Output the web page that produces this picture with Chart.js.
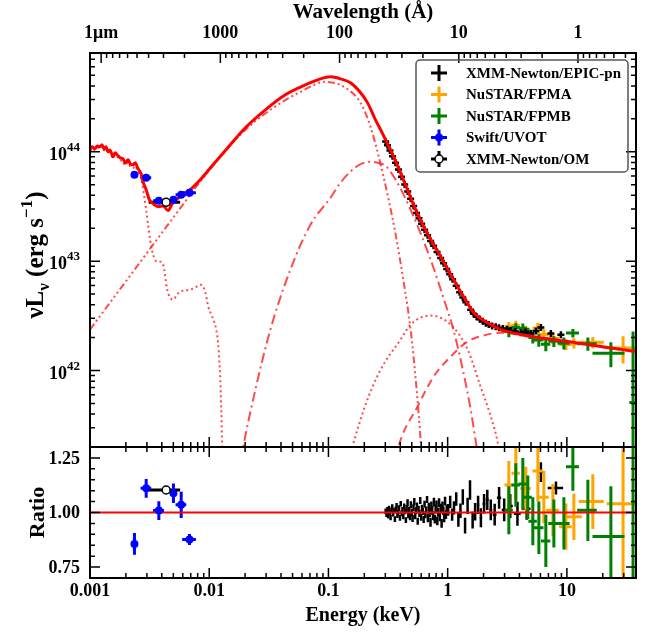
<!DOCTYPE html>
<html>
<head>
<meta charset="utf-8">
<title>SED fit</title>
<script src="https://cdn.jsdelivr.net/npm/chart.js@4.4.1/dist/chart.umd.min.js"></script>
<style>
  body { margin: 0; background: #fff; }
  #wrap { position: relative; width: 655px; height: 634px; }
  #wrap canvas { position: absolute; left: 0; top: 0; }
</style>
</head>
<body>
<div id="wrap">
  <canvas id="ratioChart" width="655" height="634"></canvas>
  <canvas id="sedChart" width="655" height="634"></canvas>
</div>
<script>
const HC = 12.398; // keV * Angstrom
const SERIF = '"Liberation Serif", "Times New Roman", serif';

// Axes
const energyRange = [0.001, 38];
const energyTicks = [0.001, 0.01, 0.1, 1, 10];
const energyTickLabels = ['0.001', '0.01', '0.1', '1', '10'];
const waveTicks = [10000, 1000, 100, 10, 1];
const waveTickLabels = ['1\u03bcm', '1000', '100', '10', '1'];
const lumRange = [2e41, 8e44];
const lumTicks = [1e42, 1e43, 1e44];
const lumTickExp = ['42', '43', '44'];
const ratioRange = [0.7, 1.3];
const ratioTicks = [0.75, 1.0, 1.25];
const ratioTickLabels = ['0.75', '1.00', '1.25'];

// Model: total
const totE = [0.001, 0.00104, 0.0011, 0.00115, 0.00121, 0.00126, 0.00131, 0.00136, 0.00142, 0.00147,
  0.00156, 0.00162, 0.00172, 0.00179, 0.00189, 0.00197, 0.00209, 0.00217, 0.0023, 0.00239,
  0.00253, 0.00268, 0.00279, 0.00296, 0.00313, 0.00338, 0.00373, 0.00411, 0.00452, 0.00489,
  0.00571, 0.00692, 0.0084, 0.0102, 0.0136, 0.0201, 0.0296, 0.0435, 0.0641, 0.0857,
  0.104, 0.126, 0.153, 0.186, 0.213, 0.248, 0.274, 0.331, 0.39, 0.46,
  0.54, 0.63, 0.74, 0.873, 1.0, 1.21, 1.4, 1.65, 2.3, 2.79,
  5.28, 10.2, 19.3, 38.8];
const totL = [1.04e44, 1.11e44, 1.065e44, 1.13e44, 1.11e44, 1.16e44, 1.065e44, 1.11e44, 1.0e44, 1.04e44,
  9.0e43, 9.8e43, 9.2e43, 8.8e43, 8.64e43, 7.93e43, 8.45e43, 7.77e43, 7.6e43, 7.93e43,
  7.0e43, 6.3e43, 5.3e43, 4.5e43, 3.7e43, 3.35e43, 3.15e43, 3.2e43, 2.9e43, 3.35e43,
  3.9e43, 4.5e43, 5.55e43, 7.1e43, 1.02e44, 1.66e44, 2.42e44, 3.32e44, 4.09e44, 4.64e44,
  4.84e44, 4.64e44, 4.27e44, 3.46e44, 2.8e44, 1.96e44, 1.59e44, 1.04e44, 6.99e43, 4.5e43,
  2.95e43, 2.07e43, 1.5e43, 1.1e43, 8.5e42, 5.85e42, 4.5e42, 3.39e42, 2.63e42, 2.37e42,
  2.04e42, 1.84e42, 1.66e42, 1.49e42];

// Model: host galaxy (dotted)
const hostE = [0.001, 0.00104, 0.0011, 0.00115, 0.00121, 0.00126, 0.00131, 0.00136, 0.00142, 0.00147,
  0.00156, 0.00162, 0.00172, 0.00179, 0.00189, 0.00197, 0.00209, 0.00217, 0.0023, 0.00239,
  0.00253, 0.00268, 0.00279, 0.00296, 0.00307, 0.00319, 0.00338, 0.00366, 0.00387, 0.00411,
  0.00444, 0.0047, 0.00498, 0.00538, 0.00571, 0.00628, 0.00692, 0.00763, 0.0084, 0.0089,
  0.00926, 0.00981, 0.0104, 0.011, 0.01145, 0.0119, 0.01213, 0.01237, 0.01261, 0.01286, 0.0131];
const hostL = [1.01e44, 1.07e44, 1.03e44, 1.09e44, 1.07e44, 1.12e44, 1.03e44, 1.07e44, 9.7e43, 1.0e44,
  8.7e43, 9.4e43, 8.8e43, 8.4e43, 8.2e43, 7.5e43, 8.0e43, 7.3e43, 7.1e43, 7.4e43,
  6.5e43, 5.79e43, 4.5e43, 2.95e43, 2.15e43, 1.57e43, 1.15e43, 9.9e42, 9.9e42, 9.3e42,
  5.5e42, 4.64e42, 4.45e42, 4.94e42, 5.27e42, 5.38e42, 5.49e42, 5.73e42, 6.1e42, 5.85e42,
  5.27e42, 3.84e42, 3.25e42, 2.8e42, 2.37e42, 1.73e42, 1.26e42, 8.8e41, 4.4e41, 2.0e41, 1.2e41];

// Model: accretion disc
const diskE = [0.001, 0.00217, 0.0047, 0.00962, 0.0182, 0.0326, 0.0582, 0.0944, 0.139, 0.186,
  0.225, 0.29, 0.366, 0.427, 0.489, 0.549, 0.593, 0.62];
const diskL = [2.37e42, 7.37e42, 2.29e43, 6.43e43, 1.43e44, 2.42e44, 3.53e44, 4.36e44, 3.84e44, 2.8e44,
  1.7e44, 5.9e43, 1.75e43, 6.5e42, 2.37e42, 6.7e41, 2.34e41, 1.2e41];

// Model: warm corona
const warmE = [0.0185, 0.0193, 0.0244, 0.0326, 0.048, 0.0706, 0.104, 0.126, 0.153, 0.186,
  0.225, 0.265, 0.301, 0.366, 0.489, 0.72, 0.962, 1.1, 1.34, 1.56, 1.75, 1.85];
const warmL = [1.5e41, 2.0e41, 6.7e41, 2.37e42, 8.4e42, 2.15e43, 3.8e43, 5.2e43, 6.6e43, 7.7e43,
  8.1e43, 7.9e43, 7.45e43, 5.55e43, 2.95e43, 1.03e43, 4.0e42, 2.52e42, 1.02e42, 4.4e41, 2.0e41, 1.4e41];

// Model: soft bump
const bumpE = [0.15, 0.159, 0.205, 0.274, 0.403, 0.489, 0.72, 1.06, 1.47, 1.89, 2.3, 2.63, 2.75];
const bumpL = [1.6e41, 2.02e41, 4.9e41, 1.02e42, 1.92e42, 2.63e42, 3.18e42, 2.63e42, 1.56e42, 7.1e41, 3.8e41, 2.2e41, 1.6e41];

// Model: hot corona
const hotE = [0.37, 0.387, 0.56, 0.763, 1.06, 1.47, 2.0, 2.79, 5.28, 10.2, 19.3, 38.8];
const hotL = [1.6e41, 2.02e41, 4.7e41, 8.8e41, 1.34e42, 1.84e42, 2.09e42, 2.22e42, 2.0e42, 1.82e42, 1.64e42, 1.47e42];

// XMM-Newton/EPIC-pn, unfolded
const epicTopE = [0.302, 0.313, 0.328, 0.345, 0.365, 0.387, 0.41, 0.436, 0.462, 0.489,
  0.518, 0.548, 0.575, 0.605, 0.64, 0.679, 0.72, 0.762, 0.815, 0.873,
  0.925, 0.982, 1.04, 1.10, 1.18, 1.26, 1.34, 1.42, 1.56, 1.65,
  1.75, 1.86, 1.97, 2.09, 2.21, 2.36, 2.53, 2.7, 2.90, 3.15,
  3.38, 3.7, 4.10, 4.5, 4.98, 5.5, 6.05, 7.34, 8.91];
const epicTopL = [1.24e44, 1.145e44, 1.03e44, 9.1e43, 7.95e43, 6.9e43, 5.9e43, 5.03e43, 4.34e43, 3.72e43,
  3.2e43, 2.76e43, 2.47e43, 2.2e43, 1.94e43, 1.73e43, 1.53e43, 1.38e43, 1.21e43, 1.07e43,
  9.55e42, 8.5e42, 7.6e42, 6.85e42, 5.95e42, 5.2e42, 4.65e42, 4.2e42, 3.6e42, 3.3e42,
  3.1e42, 2.95e42, 2.82e42, 2.7e42, 2.63e42, 2.56e42, 2.52e42, 2.46e42, 2.42e42, 2.38e42,
  2.32e42, 2.27e42, 2.22e42, 2.25e42, 2.18e42, 2.3e42, 2.47e42, 2.18e42, 2.13e42];

// XMM-Newton/EPIC-pn, ratio
const epicE = [0.302, 0.307, 0.312, 0.317, 0.322, 0.327, 0.332, 0.338, 0.343, 0.349,
  0.355, 0.361, 0.367, 0.373, 0.379, 0.385, 0.391, 0.398, 0.404, 0.411,
  0.418, 0.425, 0.432, 0.439, 0.446, 0.453, 0.461, 0.468, 0.476, 0.484,
  0.492, 0.500, 0.508, 0.517, 0.525, 0.534, 0.543, 0.552, 0.561, 0.570,
  0.580, 0.589, 0.599, 0.609, 0.619, 0.629, 0.640, 0.650, 0.661, 0.672,
  0.683, 0.695, 0.706, 0.718, 0.730, 0.742, 0.754, 0.767, 0.780, 0.793,
  0.806, 0.819, 0.833, 0.847, 0.861, 0.875, 0.890, 0.905, 0.920, 0.935,
  0.951, 0.967, 0.983,
  1.01, 1.05, 1.09, 1.13, 1.18, 1.23, 1.28, 1.34, 1.40, 1.47,
  1.54, 1.62, 1.70, 1.80, 1.90, 2.02, 2.15, 2.30, 2.48, 2.70,
  2.98, 3.35, 3.85, 4.6, 6.05, 8.1];
const epicEerr = [0.0025, 0.0025, 0.0025, 0.0025, 0.0025, 0.0025, 0.0025, 0.0025, 0.0025, 0.0025,
  0.0025, 0.0025, 0.0025, 0.0025, 0.0025, 0.0025, 0.0025, 0.0025, 0.0032, 0.0032,
  0.0032, 0.0032, 0.0032, 0.0032, 0.0032, 0.0032, 0.0032, 0.0032, 0.0032, 0.0032,
  0.0032, 0.0032, 0.0032, 0.0032, 0.0032, 0.0032, 0.0042, 0.0042, 0.0042, 0.0042,
  0.0042, 0.0042, 0.0042, 0.0042, 0.0042, 0.0042, 0.0042, 0.0042, 0.0042, 0.0042,
  0.0042, 0.0042, 0.0042, 0.0042, 0.0055, 0.0055, 0.0055, 0.0055, 0.0055, 0.0055,
  0.0055, 0.0055, 0.0055, 0.0055, 0.0055, 0.0055, 0.0055, 0.0055, 0.0055, 0.0055,
  0.0055, 0.0055, 0.0055,
  0.02, 0.02, 0.02, 0.025, 0.025, 0.025, 0.03, 0.03, 0.03, 0.035,
  0.035, 0.04, 0.045, 0.05, 0.05, 0.06, 0.065, 0.07, 0.09, 0.11,
  0.14, 0.17, 0.25, 0.35, 0.3, 1.2];
const epicRatio = [1.005, 0.992, 1.012, 0.985, 1.018, 1.000, 0.978, 1.010, 1.025, 0.995,
  1.008, 0.970, 1.015, 1.030, 0.988, 1.002, 1.020, 0.975, 1.040, 0.996,
  1.012, 0.982, 1.028, 1.005, 0.965, 1.018, 1.045, 0.990, 1.010, 0.980,
  1.035, 1.000, 0.972, 1.022, 1.050, 0.985, 1.008, 1.030, 0.960, 1.015,
  0.995, 1.055, 0.978, 1.020, 1.005, 0.968, 1.038, 0.990, 1.012, 1.060,
  0.975, 1.025, 0.998, 0.955, 1.030, 1.010, 0.985, 1.048, 0.970, 1.015,
  1.035, 0.962, 1.002, 1.045, 0.980, 1.020, 0.950, 1.030, 1.008, 0.975,
  1.052, 0.990, 1.015,
  1.012, 1.049, 0.990, 1.021, 1.062, 0.967, 1.008, 1.071, 0.940, 1.030,
  1.103, 0.965, 1.003, 1.035, 0.976, 1.040, 1.058, 1.012, 0.990, 1.067,
  1.012, 1.030, 0.994, 1.017, 1.185, 1.112];
const epicRatioErr = [0.013, 0.013, 0.013, 0.013, 0.013, 0.013, 0.013, 0.013, 0.013, 0.013,
  0.013, 0.013, 0.013, 0.013, 0.013, 0.013, 0.013, 0.013, 0.013, 0.013,
  0.013, 0.013, 0.013, 0.013, 0.013, 0.016, 0.016, 0.016, 0.016, 0.016,
  0.016, 0.016, 0.016, 0.016, 0.016, 0.016, 0.016, 0.016, 0.016, 0.016,
  0.016, 0.016, 0.016, 0.016, 0.016, 0.016, 0.016, 0.016, 0.016, 0.016,
  0.02, 0.02, 0.02, 0.02, 0.02, 0.02, 0.02, 0.02, 0.02, 0.02,
  0.02, 0.02, 0.02, 0.02, 0.02, 0.02, 0.02, 0.02, 0.02, 0.02,
  0.02, 0.02, 0.02,
  0.027, 0.028, 0.028, 0.03, 0.031, 0.032, 0.033, 0.035, 0.036, 0.037,
  0.045, 0.038, 0.04, 0.042, 0.043, 0.045, 0.046, 0.048, 0.05, 0.05,
  0.052, 0.055, 0.055, 0.05, 0.045, 0.03];

// NuSTAR/FPMA
const fpmaE = [3.26, 3.73, 4.52, 5.71, 6.41, 7.63, 9.81, 11.45, 16.5, 29.6];
const fpmaEerr = [0.26, 0.30, 0.45, 0.57, 0.64, 0.94, 1.2, 1.9, 3.9, 8.0];
const fpmaL = [2.53e42, 2.60e42, 2.35e42, 2.44e42, 2.14e42, 1.97e42, 1.73e42, 1.78e42, 1.81e42, 1.61e42];
const fpmaLerr = [2.5e41, 2.6e41, 2.1e41, 2.9e41, 2.4e41, 2.3e41, 2.0e41, 1.9e41, 2.2e41, 4.5e41];
const fpmaRatio = [1.126, 1.18, 1.11, 1.19, 1.07, 1.01, 0.935, 0.98, 1.05, 1.04];
const fpmaRatioErr = [0.11, 0.12, 0.10, 0.14, 0.12, 0.12, 0.106, 0.106, 0.125, 0.4];

// NuSTAR/FPMB
const fpmbE = [3.26, 3.73, 4.27, 4.70, 5.18, 5.82, 6.66, 7.78, 9.44, 11.23, 15.0, 23.4, 35.9];
const fpmbEerr = [0.26, 0.30, 0.34, 0.38, 0.42, 0.55, 0.6, 0.8, 1.1, 1.4, 2.8, 7.0, 2.5];
const fpmbL = [2.27e42, 2.48e42, 2.43e42, 2.25e42, 2.00e42, 1.90e42, 1.74e42, 1.85e42, 1.78e42, 2.20e42, 1.76e42, 1.44e42, 5.1e41];
const fpmbLerr = [2.5e41, 2.2e41, 2.6e41, 2.1e41, 2.3e41, 2.5e41, 2.4e41, 2.1e41, 2.2e41, 2.0e41, 2.4e41, 3.7e41, 1.76e42];
const fpmbRatio = [1.01, 1.126, 1.13, 1.07, 0.96, 0.93, 0.87, 0.95, 0.95, 1.21, 1.01, 0.89, 0.34];
const fpmbRatioErr = [0.11, 0.10, 0.12, 0.10, 0.11, 0.12, 0.12, 0.11, 0.12, 0.11, 0.14, 0.23, 1.0];

// Swift/UVOT
const swiftE = [0.00236, 0.00296, 0.00378, 0.00501, 0.00582, 0.00683];
const swiftEerr = [0.0001, 0.0003, 0.0004, 0.0002, 0.0006, 0.0009];
const swiftL = [6.17e43, 5.80e43, 3.57e43, 3.65e43, 4.05e43, 4.22e43];
const swiftLerr = [3.6e42, 2.2e42, 1.5e42, 1.5e42, 2.3e42, 1.2e42];
const swiftRatio = [0.856, 1.111, 1.009, 1.088, 1.035, 0.876];
const swiftRatioErr = [0.05, 0.043, 0.043, 0.045, 0.06, 0.025];

// XMM-Newton/OM
const omE = [0.00435];
const omElo = [0.0031];
const omEhi = [0.0057];
const omL = [3.45e43];
const omRatio = [1.103];

const legendLabels = ['XMM-Newton/EPIC-pn', 'NuSTAR/FPMA', 'NuSTAR/FPMB', 'Swift/UVOT', 'XMM-Newton/OM'];
const legendColors = ['#000000', '#ffa500', '#008000', '#0000ff', '#000000'];
const legendMarks = ['', '', '', 'filled', 'open'];

// ---------- helpers ----------
function pts(xs, ys) { return xs.map((x, i) => ({ x, y: ys[i] })); }
function errPts(xs, xe, ys, ye) {
  return xs.map((x, i) => ({ x, y: ys[i], xMin: x - xe[i], xMax: x + xe[i], yMin: ys[i] - ye[i], yMax: ys[i] + ye[i] }));
}
function model(data, color, width, dash) {
  return { data, showLine: true, pointRadius: 0, borderColor: color, borderWidth: width,
    borderDash: dash, cubicInterpolationMode: 'monotone', fill: false };
}
function logSteps(min, max) {
  const out = [];
  for (let d = Math.floor(Math.log10(min)) - 1; d <= Math.ceil(Math.log10(max)); d++) {
    for (let k = 1; k <= 9; k++) {
      const v = k * Math.pow(10, d);
      if (v >= min * 0.9999 && v <= max * 1.0001) out.push([v, k === 1]);
    }
  }
  return out;
}

const errorBars = {
  id: 'errorBars',
  beforeDatasetsDraw(chart) {
    const { ctx, chartArea: a } = chart;
    const xs = chart.scales.x, ys = chart.scales.y;
    ctx.save();
    ctx.beginPath();
    ctx.rect(a.left, a.top, a.right - a.left, a.bottom - a.top);
    ctx.clip();
    chart.data.datasets.forEach(ds => {
      if (!ds.errorBars) return;
      ctx.strokeStyle = ds.errorBars.color;
      ctx.lineWidth = ds.errorBars.width;
      ds.data.forEach(p => {
        const px = xs.getPixelForValue(p.x), py = ys.getPixelForValue(p.y);
        let lo = p.yMin;
        if (ys.type === 'logarithmic' && !(lo > 0)) lo = ys.min / 10;
        ctx.beginPath();
        ctx.moveTo(xs.getPixelForValue(p.xMin), py);
        ctx.lineTo(xs.getPixelForValue(p.xMax), py);
        ctx.moveTo(px, ys.getPixelForValue(lo));
        ctx.lineTo(px, ys.getPixelForValue(p.yMax));
        ctx.stroke();
      });
    });
    ctx.restore();
  }
};

function tickV(ctx, x, y, len) { ctx.moveTo(x, y); ctx.lineTo(x, y + len); }
function tickH(ctx, x, y, len) { ctx.moveTo(x, y); ctx.lineTo(x + len, y); }

function crossMark(ctx, cx, cy, color, mark) {
  ctx.strokeStyle = color; ctx.lineWidth = 3;
  ctx.beginPath();
  ctx.moveTo(cx - 8, cy); ctx.lineTo(cx + 8, cy);
  ctx.moveTo(cx, cy - 8); ctx.lineTo(cx, cy + 8);
  ctx.stroke();
  if (mark === 'filled') {
    ctx.fillStyle = color;
    ctx.beginPath(); ctx.arc(cx, cy, 4, 0, Math.PI * 2); ctx.fill();
  } else if (mark === 'open') {
    ctx.fillStyle = '#fff'; ctx.strokeStyle = '#000'; ctx.lineWidth = 1.5;
    ctx.beginPath(); ctx.arc(cx, cy, 4, 0, Math.PI * 2); ctx.fill(); ctx.stroke();
  }
}

// text with sub/superscripts; parts = [text, size, baseline shift]
function drawRich(ctx, parts, cx, cy, rotate, base) {
  ctx.save();
  ctx.translate(cx, cy);
  if (rotate) ctx.rotate(-Math.PI / 2);
  let total = 0;
  parts.forEach(p => { ctx.font = 'bold ' + p[1] + 'px ' + SERIF; total += ctx.measureText(p[0]).width; });
  let x = -total / 2;
  ctx.textAlign = 'left'; ctx.textBaseline = 'alphabetic';
  parts.forEach(p => {
    ctx.font = 'bold ' + p[1] + 'px ' + SERIF;
    ctx.fillText(p[0], x, base + p[2]);
    x += ctx.measureText(p[0]).width;
  });
  ctx.restore();
}

const sedAxes = {
  id: 'sedAxes',
  afterDraw(chart) {
    const { ctx, chartArea: a } = chart;
    const x = chart.scales.x, y = chart.scales.y;
    ctx.save();
    ctx.strokeStyle = '#000'; ctx.fillStyle = '#000'; ctx.lineWidth = 1.5;
    ctx.beginPath();
    logSteps(energyRange[0], energyRange[1]).forEach(([v, major]) => {
      tickV(ctx, x.getPixelForValue(v), a.bottom, major ? -10 : -5);
    });
    logSteps(HC / energyRange[1], HC / energyRange[0]).forEach(([lam, major]) => {
      tickV(ctx, x.getPixelForValue(HC / lam), a.top, major ? 10 : 5);
    });
    logSteps(lumRange[0], lumRange[1]).forEach(([v, major]) => {
      const py = y.getPixelForValue(v);
      tickH(ctx, a.left, py, major ? 10 : 5);
      tickH(ctx, a.right, py, major ? -10 : -5);
    });
    ctx.stroke();
    ctx.lineWidth = 2;
    ctx.strokeRect(a.left, a.top, a.right - a.left, a.bottom - a.top);

    // y tick labels 10^n
    lumTicks.forEach((v, i) => {
      const py = y.getPixelForValue(v);
      ctx.textAlign = 'right'; ctx.textBaseline = 'alphabetic';
      ctx.font = 'bold 13px ' + SERIF;
      const ew = ctx.measureText(lumTickExp[i]).width;
      ctx.fillText(lumTickExp[i], a.left - 10, py - 1);
      ctx.font = 'bold 18px ' + SERIF;
      ctx.fillText('10', a.left - 10 - ew, py + 8);
    });
    // wavelength labels
    ctx.textAlign = 'center'; ctx.textBaseline = 'middle';
    ctx.font = 'bold 18px ' + SERIF;
    waveTicks.forEach((lam, i) => ctx.fillText(waveTickLabels[i], x.getPixelForValue(HC / lam), a.top - 20));
    ctx.font = 'bold 21px ' + SERIF;
    ctx.fillText('Wavelength (\u00c5)', (a.left + a.right) / 2, a.top - 40);

    drawRich(ctx, [['\u03bdL', 25, 0], ['\u03bd', 17, 6], [' (erg s', 25, 0], ['\u22121', 17, -11], [')', 25, 0]],
      34, (a.top + a.bottom) / 2 + 5, true, 9);

    // legend
    const bx = a.right - 220, by = a.top + 7, bw = 212, bh = 112;
    ctx.strokeStyle = '#555'; ctx.lineWidth = 1.5;
    ctx.beginPath(); ctx.roundRect(bx, by, bw, bh, 4); ctx.stroke();
    legendLabels.forEach((lab, i) => {
      const cy = by + 13 + i * 21.5;
      crossMark(ctx, bx + 23, cy, legendColors[i], legendMarks[i]);
      ctx.fillStyle = '#000';
      ctx.font = 'bold 15px ' + SERIF;
      ctx.textAlign = 'left'; ctx.textBaseline = 'middle';
      ctx.fillText(lab, bx + 50, cy + 1);
    });
    ctx.restore();
  }
};

const ratioAxes = {
  id: 'ratioAxes',
  afterDraw(chart) {
    const { ctx, chartArea: a } = chart;
    const x = chart.scales.x, y = chart.scales.y;
    ctx.save();
    ctx.strokeStyle = '#000'; ctx.fillStyle = '#000'; ctx.lineWidth = 1.5;
    ctx.beginPath();
    logSteps(energyRange[0], energyRange[1]).forEach(([v, major]) => {
      const px = x.getPixelForValue(v);
      tickV(ctx, px, a.bottom, major ? -10 : -5);
      tickV(ctx, px, a.top, major ? 10 : 5);
    });
    for (let r = ratioRange[0]; r <= ratioRange[1] + 1e-6; r += 0.05) {
      const major = ratioTicks.some(t => Math.abs(t - r) < 1e-6);
      const py = y.getPixelForValue(r);
      tickH(ctx, a.left, py, major ? 10 : 5);
      tickH(ctx, a.right, py, major ? -10 : -5);
    }
    ctx.stroke();
    ctx.lineWidth = 2;
    ctx.strokeRect(a.left, a.top, a.right - a.left, a.bottom - a.top);

    ctx.font = 'bold 18px ' + SERIF;
    ctx.textAlign = 'right'; ctx.textBaseline = 'middle';
    ratioTicks.forEach((v, i) => ctx.fillText(ratioTickLabels[i], a.left - 10, y.getPixelForValue(v) + 1));
    ctx.textAlign = 'center';
    energyTicks.forEach((v, i) => ctx.fillText(energyTickLabels[i], x.getPixelForValue(v), a.bottom + 13));
    ctx.font = 'bold 20px ' + SERIF;
    ctx.fillText('Energy (keV)', (a.left + a.right) / 2, a.bottom + 38);
    drawRich(ctx, [['Ratio', 22, 0]], 36, (a.top + a.bottom) / 2, true, 8);
    ctx.restore();
  }
};

Chart.defaults.font.family = SERIF;

const compColor = 'rgba(255, 30, 30, 0.8)';

new Chart(document.getElementById('sedChart'), {
  type: 'scatter',
  data: {
    datasets: [
      { data: pts(omE, omL).map((p, i) => ({ ...p, xMin: omElo[i], xMax: omEhi[i], yMin: p.y, yMax: p.y })),
        pointRadius: 4, pointBackgroundColor: '#fff', pointBorderColor: '#000', pointBorderWidth: 1.5,
        errorBars: { color: '#000', width: 3 } },
      { data: errPts(swiftE, swiftEerr, swiftL, swiftLerr), pointRadius: 4, pointBackgroundColor: '#0000ff',
        pointBorderWidth: 0, errorBars: { color: '#0000ff', width: 3 } },
      model(pts(totE, totL), '#ff0000', 3, []),
      model(pts(diskE, diskL), compColor, 2, [7, 3, 2, 3, 2, 3, 2, 3]),
      model(pts(warmE, warmL), compColor, 2, [10, 4, 2, 4]),
      model(pts(bumpE, bumpL), compColor, 2, [2, 3]),
      model(pts(hotE, hotL), compColor, 2, [8, 5]),
      model(pts(hostE, hostL), compColor, 2, [2, 3]),
      { data: pts(epicTopE, epicTopL), pointStyle: 'cross', pointRadius: 3.5, pointBorderColor: '#000', pointBorderWidth: 2.5 },
      { data: errPts(fpmaE, fpmaEerr, fpmaL, fpmaLerr), pointRadius: 0, errorBars: { color: '#ffa500', width: 3 } },
      { data: errPts(fpmbE, fpmbEerr, fpmbL, fpmbLerr), pointRadius: 0, errorBars: { color: '#008000', width: 3 } }
    ]
  },
  options: {
    responsive: false, animation: false,
    layout: { padding: { left: 90, right: 19, top: 53, bottom: 187 } },
    plugins: { legend: { display: false }, tooltip: { enabled: false } },
    scales: {
      x: { type: 'logarithmic', min: energyRange[0], max: energyRange[1], display: false },
      y: { type: 'logarithmic', min: lumRange[0], max: lumRange[1], display: false }
    }
  },
  plugins: [errorBars, sedAxes]
});

const ones = energyRange.map(() => 1);

new Chart(document.getElementById('ratioChart'), {
  type: 'scatter',
  data: {
    datasets: [
      { data: pts(omE, omRatio).map((p, i) => ({ ...p, xMin: omElo[i], xMax: omEhi[i], yMin: p.y, yMax: p.y })),
        pointRadius: 4, pointBackgroundColor: '#fff', pointBorderColor: '#000', pointBorderWidth: 1.5,
        errorBars: { color: '#000', width: 3 } },
      { data: errPts(swiftE, swiftEerr, swiftRatio, swiftRatioErr), pointRadius: 4, pointBackgroundColor: '#0000ff',
        pointBorderWidth: 0, errorBars: { color: '#0000ff', width: 3 } },
      { data: pts(energyRange, ones), showLine: true, pointRadius: 0, borderColor: '#ff0000', borderWidth: 2 },
      { data: errPts(epicE, epicEerr, epicRatio, epicRatioErr), pointRadius: 0, errorBars: { color: '#000', width: 2.5 } },
      { data: errPts(fpmaE, fpmaEerr, fpmaRatio, fpmaRatioErr), pointRadius: 0, errorBars: { color: '#ffa500', width: 3 } },
      { data: errPts(fpmbE, fpmbEerr, fpmbRatio, fpmbRatioErr), pointRadius: 0, errorBars: { color: '#008000', width: 3 } }
    ]
  },
  options: {
    responsive: false, animation: false,
    layout: { padding: { left: 90, right: 19, top: 447, bottom: 56 } },
    plugins: { legend: { display: false }, tooltip: { enabled: false } },
    scales: {
      x: { type: 'logarithmic', min: energyRange[0], max: energyRange[1], display: false },
      y: { type: 'linear', min: ratioRange[0], max: ratioRange[1], display: false }
    }
  },
  plugins: [errorBars, ratioAxes]
});
</script>
</body>
</html>
